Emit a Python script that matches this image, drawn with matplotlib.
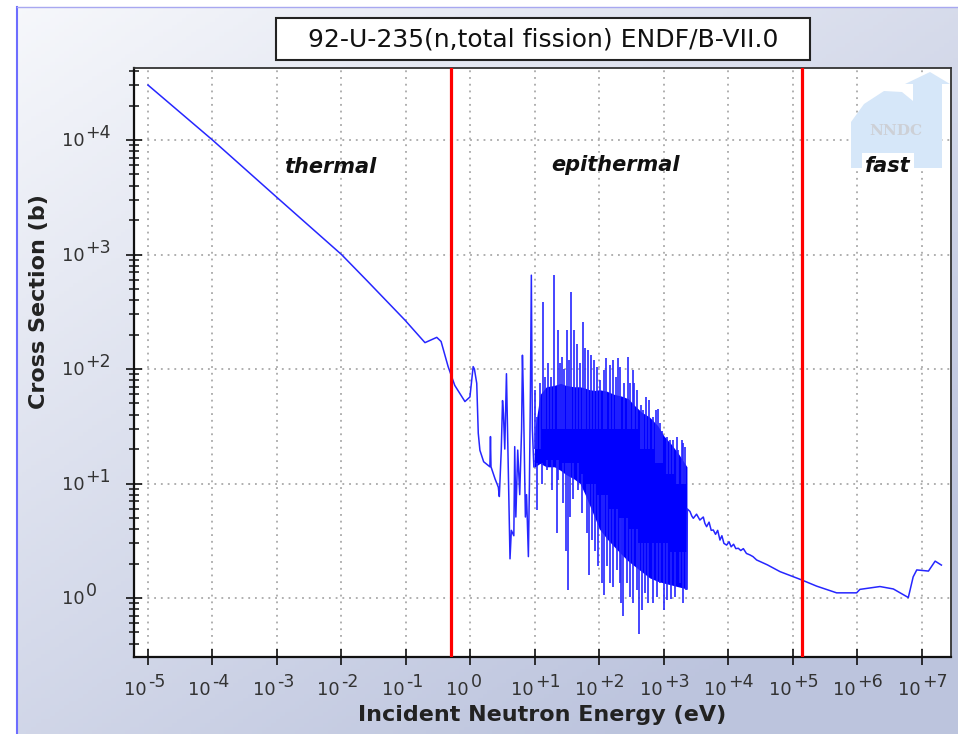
import matplotlib.pyplot as plt
import numpy as np
from matplotlib import ticker
from matplotlib.patches import Polygon, Rectangle

# U-235 total fission cross section
# thermal region and the first isolated resonances (eV, barns)
low_energy = [1e-5, 1e-4, 1e-3, 1e-2, 0.0253, 0.096, 0.197, 0.30, 0.35, 0.45,
              0.57, 0.82, 0.98, 1.10, 1.15, 1.25, 1.32, 1.40, 1.60, 2.00,
              2.04, 2.08, 2.40, 2.70, 2.80, 3.00, 3.14, 3.24, 3.40, 3.61,
              3.75, 4.10, 4.30, 4.70, 4.85, 5.05, 5.40, 5.80, 6.20, 6.39,
              6.60, 7.10, 7.40, 7.90, 8.20, 8.50, 8.78, 9.10, 9.60]
low_xs = [30200, 10000, 3150, 1000, 585, 268, 170, 189, 174, 105,
          72, 52, 57, 105, 100, 75, 27.5, 19.5, 15.5, 14,
          25.7, 14, 11, 9.3, 7.7, 19.6, 53, 41, 20, 91,
          30, 2.2, 3.9, 3.5, 21, 5.1, 19.6, 8, 30, 132,
          60, 5.1, 8, 2.3, 10, 66, 660, 30, 14]

# resolved resonance region: solid band of overlapping resonances
band_energy = [9.6, 10, 12, 15, 20, 25, 30, 40, 50, 60, 70, 85, 100, 130,
               170, 220, 280, 350, 450, 600, 800, 1000, 1300, 1700, 2270]
band_top = [14, 30, 60, 70, 72, 75, 72, 70, 70, 68, 66, 65, 66, 64,
            60, 58, 55, 48, 42, 38, 32, 26, 22, 18, 14]
band_bottom = [14, 14, 15, 14, 14, 13, 12, 11, 10, 8, 6.5, 5.0, 4.0, 3.3,
               2.8, 2.4, 2.1, 1.9, 1.7, 1.5, 1.4, 1.35, 1.3, 1.25, 1.2]

# resonance peaks sticking out above the band
peak_energy = [10.0, 10.6, 11.9, 13.2, 14.3, 16.1, 17.5, 19.7, 22.5, 24.4,
               26.5, 28.2, 31.0, 33.7, 36.2, 40.7, 44.3, 49.9, 54.9, 59.6,
               65.6, 74.7, 82.2, 90.3, 102, 117, 126, 146, 164, 180,
               191, 208, 240, 273, 297, 334, 347, 386, 440, 479,
               526, 593, 667, 752, 817, 870, 920, 1100, 1240, 1360,
               1570, 1670, 1880, 2000, 2120]
peak_xs = [65, 38, 75, 387, 86, 112, 86, 662, 219, 112,
           128, 101, 219, 120, 473, 219, 167, 112, 259, 152,
           147, 132, 120, 105, 80, 98, 124, 108, 120, 86,
           124, 105, 75, 128, 75, 98, 75, 65, 48.5, 44,
           57, 54, 38, 43.9, 45, 33.6, 29, 25.6, 24, 24,
           25.6, 19.6, 24, 22.4, 21]
peak_base = [20, 20, 20, 30, 30, 30, 30, 30, 30, 30,
             30, 30, 30, 30, 30, 30, 30, 30, 30, 30,
             30, 30, 30, 30, 30, 30, 30, 30, 30, 30,
             30, 30, 30, 30, 30, 30, 30, 30, 20, 20,
             20, 20, 20, 15, 15, 15, 15, 12, 12, 12,
             10, 10, 10, 10, 10]

# resonance interference dips below the band
dip_energy = [10.9, 12.7, 15.2, 18.1, 21.6, 23.0, 27.5, 29.9, 32.1, 34.9,
              39.3, 45.8, 52.9, 63.2, 69.5, 77.4, 85.2, 95.9, 108, 117,
              129, 146, 164, 185, 208, 213, 234, 264, 297, 334,
              377, 414, 451, 507, 571, 682, 769, 867, 1010, 1100,
              1270, 1480, 1770, 2000, 2190]
dip_xs = [5.9, 10, 13, 8.8, 3.67, 10.7, 6.7, 2.6, 1.17, 5.1,
          7.4, 8.8, 5.5, 3.7, 1.59, 3.2, 2.6, 1.9, 1.34, 1.06,
          1.9, 1.34, 1.26, 1.75, 1.34, 0.90, 0.69, 1.34, 1.03, 0.90,
          1.17, 0.49, 0.79, 1.10, 0.90, 0.90, 1.03, 1.34, 0.79, 0.96,
          0.99, 1.03, 1.34, 0.90, 1.17]
dip_base = [15, 15, 16, 16, 16, 16, 15, 15, 15, 15,
            15, 15, 12, 10, 10, 10, 10, 8, 8, 8,
            8, 6, 6, 6, 5, 5, 5, 5, 4, 4,
            4, 3, 3, 3, 3, 3, 3, 3, 3, 3,
            2.5, 2.5, 2.5, 2.5, 2.5]

# unresolved and fast region
fast_energy = [2270, 2300, 2530, 2700, 2850, 3200, 3600, 4070, 4300, 4580,
               5000, 5400, 5810, 6300, 6800, 7380, 7900, 8500, 9370, 10200,
               11000, 12000, 13000, 14200, 15500, 17000, 19000, 21500, 24000,
               27300, 40000, 63000, 136000, 233000, 475000, 970000, 1.09e6,
               2.23e6, 3.6e6, 6.14e6, 7.3e6, 8.3e6, 1.26e7, 1.6e7, 2.0e7]
fast_xs = [1.2, 6.0, 5.7, 5.2, 4.97, 5.4, 4.8, 5.1, 4.5, 4.2,
           4.6, 3.9, 3.93, 3.6, 3.9, 3.21, 3.5, 3.0, 2.9, 3.1,
           2.8, 2.95, 2.7, 2.72, 2.6, 2.7, 2.45, 2.38, 2.3,
           2.15, 1.95, 1.70, 1.44, 1.27, 1.11, 1.11, 1.19,
           1.26, 1.20, 1.01, 1.53, 1.76, 1.72, 2.1, 1.94]

# region boundaries (eV) and names
region_bounds = [0.5, 1.4e5]
region_names = ["thermal", "epithermal", "fast"]

# tick decades and their exponent labels (drawn as "10" + raised exponent)
x_decades = list(range(-5, 8))
x_exponents = ["-5", "-4", "-3", "-2", "-1", "0", "+1", "+2", "+3", "+4",
               "+5", "+6", "+7"]
y_decades = list(range(0, 5))
y_exponents = ["0", "+1", "+2", "+3", "+4"]

title = "92-U-235(n,total fission) ENDF/B-VII.0"

W, H = 958, 734
PT = 72 / 100  # points per pixel at dpi 100


def main() -> None:
    plt.rcParams["font.family"] = "DejaVu Sans"

    fig = plt.figure(figsize=(W / 100, H / 100), dpi=100)

    # panel background: soft diagonal gradient with a thin blue frame
    bg = fig.add_axes([0, 0, 1, 1], zorder=-5)
    gx, gy = np.meshgrid(np.linspace(0, 1, 200), np.linspace(0, 1, 200))
    t = np.clip(0.55 * gx + 0.65 * gy, 0, 1)
    c0 = np.array([0.965, 0.97, 0.985])
    c1 = np.array([0.74, 0.77, 0.87])
    img = c0 + (c1 - c0) * t[..., None]
    bg.imshow(img, extent=[17 / W, 1, 0, 1 - 7 / H], aspect="auto",
              origin="upper")
    bg.plot([17 / W, 17 / W], [0, 1 - 7 / H], color="#6d6dff", lw=1.5)
    bg.plot([17 / W, 1], [1 - 7 / H, 1 - 7 / H], color="#a8a8f0", lw=1.0)
    bg.set_xlim(0, 1)
    bg.set_ylim(0, 1)
    bg.axis("off")

    ax = fig.add_axes([134 / W, 1 - 657 / H, 817 / W, 589 / H])
    ax.set_facecolor("white")
    ax.set_xscale("log")
    ax.set_yscale("log")

    blue = "#2626ff"
    ax.fill_between(band_energy, band_bottom, band_top, color="#0000ff",
                    lw=0, zorder=3)
    ax.vlines(peak_energy, peak_base, peak_xs, color=blue, lw=1.2, zorder=3)
    ax.vlines(dip_energy, dip_xs, dip_base, color=blue, lw=1.2, zorder=3)
    ax.plot(low_energy, low_xs, color=blue, lw=1.1, zorder=3)
    ax.plot(fast_energy, fast_xs, color=blue, lw=1.1, zorder=3)

    for b in region_bounds:
        ax.axvline(b, color="#ff0000", lw=2.3, zorder=4)

    ax.set_xlim(10 ** -5.217, 10 ** 7.45)
    ax.set_ylim(10 ** -0.515, 10 ** 4.629)

    x_ticks = [10.0 ** d for d in x_decades]
    y_ticks = [10.0 ** d for d in y_decades]
    ax.xaxis.set_major_locator(ticker.FixedLocator(x_ticks))
    ax.xaxis.set_minor_locator(ticker.NullLocator())
    ax.yaxis.set_major_locator(ticker.FixedLocator(y_ticks))
    ax.yaxis.set_minor_locator(ticker.LogLocator(base=10, subs=np.arange(2, 10)))
    ax.xaxis.set_major_formatter(ticker.NullFormatter())
    ax.yaxis.set_major_formatter(ticker.NullFormatter())
    ax.yaxis.set_minor_formatter(ticker.NullFormatter())

    ax.tick_params(which="major", direction="inout", length=12, width=1.2,
                   color="#111111")
    ax.tick_params(which="minor", direction="inout", length=7, width=1.1,
                   color="#111111")
    ax.tick_params(top=False, right=False, which="both")

    # tick labels: "10" with a nearly full-size raised exponent
    lab = dict(fontsize=13, color="#333333", annotation_clip=False,
               textcoords="offset points")
    sup = dict(fontsize=12.5, color="#333333", annotation_clip=False,
               textcoords="offset points")
    for xt, e in zip(x_ticks, x_exponents):
        ax.annotate("10", xy=(xt, 0), xycoords=ax.get_xaxis_transform(),
                    xytext=(-1.5 * PT, -33 * PT), ha="right", va="center", **lab)
        ax.annotate(e, xy=(xt, 0), xycoords=ax.get_xaxis_transform(),
                    xytext=(0, -25 * PT), ha="left", va="center", **sup)
    for yt, e in zip(y_ticks, y_exponents):
        ax.annotate("10", xy=(0, yt), xycoords=ax.get_yaxis_transform(),
                    xytext=(-72 * PT, -1 * PT), ha="left", va="center", **lab)
        ax.annotate(e, xy=(0, yt), xycoords=ax.get_yaxis_transform(),
                    xytext=(-48.5 * PT, 7 * PT), ha="left", va="center", **sup)

    ax.grid(which="major", axis="both", color="#9a9a9a",
            linestyle=(0, (1.2, 3.2)), lw=1.1, zorder=1)
    ax.set_axisbelow(True)

    for side in ["left", "bottom"]:
        ax.spines[side].set_linewidth(1.6)
        ax.spines[side].set_color("#111111")
    for side in ["top", "right"]:
        ax.spines[side].set_linewidth(1.3)
        ax.spines[side].set_color("#333333")

    ax.set_xlabel("Incident Neutron Energy (eV)", fontsize=16, fontweight="bold",
                  color="#222222")
    ax.set_ylabel("Cross Section (b)", fontsize=16, fontweight="bold",
                  color="#222222")
    ax.xaxis.set_label_coords(0.5, (657 - 705) / 589)
    ax.yaxis.set_label_coords((49 - 134) / 817, (657 - 302) / 589)

    # NNDC watermark in the upper right corner
    logo_px = [(851, 168), (851, 122), (864, 104), (884, 91), (902, 92),
               (913, 101), (913, 84), (905, 84), (930, 72), (950, 84),
               (942, 84), (942, 168)]
    logo = Polygon([((px - 134) / 817, (657 - py) / 589) for px, py in logo_px],
                   closed=True, transform=ax.transAxes, facecolor="#d6e7f9",
                   edgecolor="none", zorder=2)
    ax.add_patch(logo)
    ax.text((896 - 134) / 817, (657 - 131) / 589, "NNDC", transform=ax.transAxes,
            ha="center", va="center", fontsize=11, fontweight="bold",
            family="DejaVu Serif", color="#cdd0d6", zorder=2)

    label_pos = [(0.240, 0.832), (0.589, 0.835), (0.923, 0.833)]
    for name, (fx, fy) in zip(region_names, label_pos):
        kw = {}
        if name == "fast":
            kw["bbox"] = dict(facecolor="white", edgecolor="none", pad=2.5)
        ax.text(fx, fy, name, transform=ax.transAxes, ha="center", va="center",
                fontsize=15, fontweight="bold", fontstyle="italic",
                color="#111111", zorder=5, **kw)

    # title box
    fig.patches.append(Rectangle((276 / W, 1 - 60 / H), 534 / W, 42 / H,
                                 transform=fig.transFigure, facecolor="white",
                                 edgecolor="#222222", lw=1.5, zorder=1))
    fig.text(543 / W, 1 - 40 / H, title, ha="center", va="center",
             fontsize=18, color="#111111", zorder=2)

    fig.savefig("out.png", dpi=100)
    plt.close(fig)


if __name__ == "__main__":
    main()
